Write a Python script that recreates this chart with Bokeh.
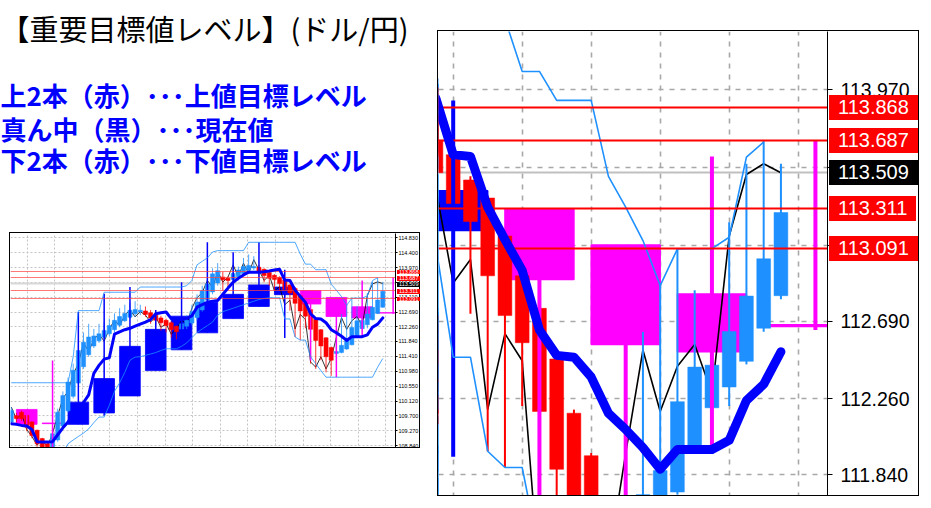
from bokeh.plotting import figure
from bokeh.models import (ColumnDataSource, Range1d, FixedTicker, NumeralTickFormatter, Label,
                          Spacer, GridBox, Div)
from bokeh.layouts import row, column
from bokeh.embed import file_html
from bokeh.resources import INLINE

NAN = float("nan")

# ---------------- texts ----------------
title_text = "【重要目標値レベル】(ドル/円)"
legend_lines = [
    "上2本（赤）･･･上値目標レベル",
    "真ん中（黒）･･･現在値",
    "下2本（赤）･･･下値目標レベル",
]

# ---------------- data (hourly Heikin-Ashi bars, index 0 = first grid line of zoom) ----------------
bar_index = list(range(-53, 20))

ha_open = [109.52, 109.70, 109.80, 109.71, 109.52, 109.28, 109.04, 108.89, 108.80, 109.00,
           109.40, 109.84, 110.26, 110.64, 111.11, 111.46, 111.71, 111.86, 111.96, 112.06,
           112.18, 112.31, 112.44, 112.54, 112.64, 112.70, 112.72, 112.67, 112.60, 112.52,
           112.45, 112.38, 112.28, 112.20, 112.28, 112.37, 112.53, 112.75, 113.03, 113.27,
           113.53, 113.70, 113.66, 113.63, 113.71, 113.80, 113.90, 113.96, 113.98, 113.92,
           113.83, 113.75, 113.69, 113.61, 113.47, 113.37, 113.16, 112.94, 112.76, 112.48,
           112.18, 111.945, 111.67, 111.49, 111.52, 111.625, 111.744, 112.00, 112.21, 112.325,
           112.467, 112.65, 112.83]
ha_high = [109.95, 109.78, 109.85, 109.74, 109.55, 109.30, 109.06, 108.95, 109.25, 109.90,
           110.40, 110.80, 111.20, 111.90, 112.10, 112.35, 112.20, 112.35, 112.40, 112.50,
           112.65, 112.80, 112.90, 112.95, 113.00, 112.90, 112.85, 112.75, 112.65, 112.58,
           112.50, 112.42, 112.30, 112.50, 112.60, 112.90, 113.20, 113.45, 113.70, 113.95,
           114.10, 113.85, 113.72, 114.10, 114.00, 114.25, 114.35, 114.30, 114.05, 113.95,
           113.86, 113.78, 113.72, 113.63, 113.49, 113.38, 113.17, 112.95, 112.78, 112.50,
           112.20, 111.96, 111.69, 111.97, 112.63, 112.90, 113.09, 112.86, 112.64, 113.236,
           113.559, 113.687, 113.559]
ha_low = [109.45, 109.50, 109.55, 109.25, 109.05, 108.80, 108.70, 108.60, 108.70, 108.95,
          109.35, 109.80, 110.20, 110.60, 111.05, 111.40, 111.65, 111.80, 111.90, 112.00,
          112.10, 112.25, 112.40, 112.50, 112.55, 112.60, 112.55, 112.35, 112.30, 112.15,
          112.10, 111.95, 111.90, 112.10, 112.20, 112.30, 112.45, 112.70, 112.95, 113.20,
          113.45, 113.30, 113.35, 113.55, 113.60, 113.72, 113.85, 113.90, 113.70, 113.55,
          113.45, 113.30, 113.30, 113.10, 112.73, 111.97, 111.88, 112.22, 111.20, 111.05,
          111.30, 110.95, 110.85, 111.40, 111.50, 111.60, 111.73, 111.98, 112.19, 112.22,
          112.45, 112.63, 112.81]
ha_close = [109.85, 109.62, 109.61, 109.37, 109.13, 108.89, 108.75, 108.70, 109.18, 109.80,
            110.28, 110.67, 111.01, 111.58, 111.82, 111.97, 112.00, 112.06, 112.16, 112.30,
            112.45, 112.56, 112.65, 112.74, 112.76, 112.74, 112.62, 112.52, 112.45, 112.38,
            112.30, 112.18, 112.12, 112.35, 112.45, 112.70, 112.97, 113.30, 113.50, 113.79,
            113.88, 113.62, 113.60, 113.80, 113.90, 114.00, 114.03, 114.00, 113.86, 113.74,
            113.66, 113.63, 113.51, 113.34, 113.24, 112.94, 112.72, 112.57, 112.19, 111.87,
            111.71, 111.40, 111.30, 111.55, 111.73, 111.863, 112.244, 112.435, 112.446, 112.632,
            112.828, 113.034, 113.29]

# actual close (thin black line)
close_line = [109.95, 109.60, 109.75, 109.30, 109.10, 108.85, 109.00, 108.80, 109.20, 109.70,
              110.20, 110.40, 110.90, 111.20, 111.80, 111.55, 111.90, 112.05, 111.85, 112.20,
              112.45, 112.30, 112.60, 112.75, 112.55, 112.70, 112.60, 112.40, 112.55, 112.25,
              112.35, 112.05, 112.20, 112.45, 112.35, 112.80, 113.10, 113.25, 113.60, 113.40,
              113.85, 113.55, 113.70, 114.05, 113.70, 114.10, 113.80, 114.20, 113.90, 113.60,
              113.75, 113.30, 113.42, 112.90, 113.03, 112.20, 112.62, 112.47, 111.25, 111.10,
              111.40, 111.05, 111.35, 111.96, 112.53, 112.19, 112.44, 112.56, 112.29, 113.16,
              113.50, 113.56, 113.51]

# thick blue moving average
ma_line = [109.47, 109.45, 109.42, 109.40, 109.30, 108.95, 108.94, 108.94, 108.95, 109.15,
           109.35, 109.52, 109.72, 109.90, 110.08, 110.30, 110.92, 111.15, 111.33, 111.37,
           112.05, 112.12, 112.18, 112.22, 112.28, 112.34, 112.40, 112.47, 112.64, 112.67,
           112.69, 112.50, 112.49, 112.49, 112.51, 112.58, 112.83, 112.90, 112.97, 113.00,
           113.02, 113.20, 113.38, 113.55, 113.66, 113.76, 113.84, 113.84, 113.84, 113.85,
           113.87, 113.90, 113.92, 113.61, 113.60, 113.32, 113.14, 112.97, 112.64, 112.50,
           112.49, 112.38, 112.18, 112.09, 111.99, 111.87, 111.98, 111.98, 111.98, 112.03,
           112.25, 112.34, 112.52]

# light blue channel lines
chan_upper = [110.65, 110.65, 110.65, 110.65, 110.65, 110.65, 110.65, 110.65, 110.65, 110.65,
              110.65, 110.65, 111.40, 112.73, 112.73, 112.73, 112.73, 112.73, 113.26, 113.26,
              113.26, 113.26, 113.26, 113.26, 113.26, 113.41, 113.41, 113.41, 113.41, 113.41,
              113.41, 113.41, 113.41, 113.41, 113.45, 113.60, 114.05, 114.15, 114.25, 114.42,
              114.46, 114.46, 114.46, 114.46, 114.46, 114.46, 114.70, 114.70, 114.70, 114.70,
              114.70, 114.70, 114.70, 114.70, 114.70, 114.70, 114.36, 114.07, 114.07, 113.91,
              113.91, 113.91, 113.49, 113.32, 113.135, 112.886, 113.089, 113.09, 113.09, 113.153,
              113.596, 113.68, NAN]
chan_lower = [108.60, 108.60, 108.60, 108.60, 108.60, 108.60, 108.60, 108.60, 108.60, 108.60,
              108.60, 108.89, 109.00, 109.10, 109.20, 109.32, 109.50, 109.66, 109.66, 110.00,
              110.40, 110.65, 110.95, 111.30, 111.39, 111.40, 111.44, 111.48, 111.52, 111.58,
              111.63, 111.63, 111.63, 111.70, 111.80, 111.95, 112.10, 112.20, 112.30, 112.40,
              112.60, 112.70, 112.75, 112.80, 112.85, 112.90, 112.95, 113.00, 113.05, 113.08,
              113.10, 113.10, 113.10, 112.49, 112.49, 111.97, 111.88, 111.88, 111.40, 111.20,
              111.00, 110.81, 110.81, 110.81, 110.81, 110.81, 110.81, 110.81, 110.81, 110.81,
              110.81, 111.10, 111.35]

# higher-timeframe candles (boxes)
htf_start = [-52, -47, -42, -37, -32, -27, -22, -17, -12, -7, -2, 3, 8, 13, 18]
htf_end = [-48, -43, -38, -33, -28, -23, -18, -13, -8, -3, 2, 7, 12, 17, 22]
htf_wick = [-50, -45, -40, -35, -30, -25, -20, -15, -10, -5, 0, 5, 10, 15, 21]
htf_open = [109.88, 109.49, 109.45, 109.78, 110.27, 111.00, 111.60, 112.09, 112.50, 112.85,
            113.19, 113.31, 113.11, 112.84, 112.67]
htf_high = [109.88, 111.29, 112.69, 113.22, 113.41, 112.75, 113.55, 114.70, 114.41, 114.70,
            113.91, 113.31, 113.11, 113.60, 113.687]
htf_low = [109.45, 108.50, 109.45, 109.70, 110.27, 111.00, 111.60, 112.09, 112.50, 112.85,
           111.94, 111.29, 110.81, 111.99, 112.64]
htf_close = [109.45, 109.47, 110.09, 110.77, 111.70, 112.19, 112.57, 112.97, 113.20, 113.48,
             113.41, 112.92, 112.56, 112.52, 112.66]

level_prices = [113.868, 113.687, 113.311, 113.091]
current_price = 113.509
price_ticks = [108.840, 109.270, 109.700, 110.120, 110.550, 110.980, 111.410, 111.840,
               112.260, 112.690, 113.110, 113.540, 113.970, 114.400, 114.830]

# ---------------- styles ----------------
BULL = "#1E90FF"
BEAR = "#FF0000"
HTF_BULL = "#0000FF"
HTF_BEAR = "#FF00FF"
CHAN = "#1E90FF"
MA = "#0000FF"
NUM_FONT = "Liberation Sans"
JP_FONT = "Noto Sans CJK JP"
DIV_DX, DIV_DY = -7, -3.5   # compensation for the Div's own content offset

ha_src = ColumnDataSource(dict(
    x=bar_index,
    top=[max(o, c) for o, c in zip(ha_open, ha_close)],
    bottom=[min(o, c) for o, c in zip(ha_open, ha_close)],
    high=ha_high, low=ha_low,
    color=[BULL if c >= o else BEAR for o, c in zip(ha_open, ha_close)],
))
htf_src = ColumnDataSource(dict(
    left=htf_start, right=htf_end, wick=htf_wick,
    top=[max(o, c) for o, c in zip(htf_open, htf_close)],
    bottom=[min(o, c) for o, c in zip(htf_open, htf_close)],
    high=htf_high, low=htf_low,
    color=[HTF_BULL if c > o else HTF_BEAR for o, c in zip(htf_open, htf_close)],
))


def draw_chart(p, s):
    p.quad(left="left", right="right", top="top", bottom="bottom", source=htf_src,
           fill_color="color", line_color="color", line_width=s["box_line"])
    p.hspan(y=[current_price], line_color=s["cur_color"], line_width=s["cur_w"])
    p.line(bar_index, close_line, line_color="black", line_width=s["close_w"])
    p.segment(x0="x", y0="high", x1="x", y1="low", source=ha_src,
              line_color="color", line_width=s["wick_w"])
    p.vbar(x="x", width=0.8, top="top", bottom="bottom", source=ha_src,
           fill_color="color", line_color="color", line_width=0.5)
    p.segment(x0="wick", y0="high", x1="wick", y1="low", source=htf_src,
              line_color="color", line_width=s["htf_wick_w"])
    p.line(bar_index, chan_upper, line_color=CHAN, line_width=s["chan_w"])
    p.line(bar_index, chan_lower, line_color=CHAN, line_width=s["chan_w"])
    p.hspan(y=level_prices, line_color=s["lvl_color"], line_width=s["lvl_w"],
            line_alpha=s["lvl_alpha"])
    p.line(bar_index, ma_line, line_color=MA, line_width=s["ma_w"],
           line_join="round", line_cap="round")


def style_axis(p, s):
    ax = p.yaxis[0]
    ax.ticker = FixedTicker(ticks=price_ticks)
    ax.formatter = NumeralTickFormatter(format="0.000")
    ax.major_label_text_font = NUM_FONT
    ax.major_label_text_font_size = s["lab_size"]
    ax.major_label_text_color = "black"
    ax.major_tick_out = s["tick_out"]
    ax.major_tick_in = 0
    ax.minor_tick_out = 0
    ax.minor_tick_in = 0
    ax.major_label_standoff = s["standoff"]
    ax.axis_line_color = "black"
    ax.major_tick_line_color = "black"
    p.ygrid.grid_line_color = s["grid_color"]
    p.ygrid.grid_line_dash = s["grid_dash"]
    p.ygrid.grid_line_width = s["grid_w"]
    p.xgrid.ticker = FixedTicker(ticks=s["xgrid"])
    p.xgrid.grid_line_color = s["grid_color"]
    p.xgrid.grid_line_dash = s["grid_dash"]
    p.xgrid.grid_line_width = s["grid_w"]


def make_chart(w, h, xr, yr, border_right, s):
    p = figure(width=w, height=h, x_range=Range1d(*xr), y_range=Range1d(*yr),
               x_axis_location=None, y_axis_location="right", toolbar_location=None,
               output_backend="svg", min_border_left=0, min_border_top=0,
               min_border_bottom=0, min_border_right=border_right, outline_line_color=None)
    p.styles = {"border": "1px solid black"}
    style_axis(p, s)
    draw_chart(p, s)
    return p


def with_price_tags(base, w, h, frame_w, yr, s):
    # price tags laid over the price-axis column (same grid cell as the chart)
    y0, y1 = yr
    tags = [(v, "#FF0000") for v in level_prices] + [(current_price, "#000000")]
    parts = []
    for v, bg in tags:
        top = 1 + (y1 - v) / (y1 - y0) * h - s["tag_h"] / 2 + s["tag_dy"] + DIV_DY
        left = 1 + frame_w + s["tag_off"] + DIV_DX
        parts.append(
            f'<div style="position:absolute;left:{left}px;top:{top:.2f}px;'
            f'height:{s["tag_h"]}px;line-height:{s["tag_h"]}px;padding:0 {s["tag_padx"]}px;'
            f'background:{bg};color:#ffffff;font-family:\'Liberation Sans\',Arial,sans-serif;'
            f'font-size:{s["tag_size"]};white-space:nowrap;">{v:.3f}</div>'
        )
    html = (f'<div style="position:relative;width:{w + 2}px;height:{h + 2}px;">'
            + "".join(parts) + "</div>")
    div = Div(text=html, width=w + 2, height=h + 2)
    return GridBox(children=[(base, 0, 0), (div, 0, 0)])


# ---------------- title panel ----------------
tp = figure(width=437, height=232, x_range=Range1d(0, 437), y_range=Range1d(232, 0),
            x_axis_location=None, y_axis_location=None, toolbar_location=None,
            output_backend="svg", min_border=0, outline_line_color=None)
tp.grid.visible = False
tp.add_layout(Label(x=0, y=27.5, text=title_text, text_font=JP_FONT, text_font_size="29px",
                    text_color="black", text_baseline="middle", text_align="left"))
for k, line in enumerate(legend_lines):
    tp.add_layout(Label(x=0, y=[94, 127.5, 159][k], text=line, text_font=JP_FONT,
                        text_font_size="26px", text_font_style="bold", text_color="#0000FF",
                        text_baseline="middle", text_align="left"))

# ---------------- small overview chart ----------------
small_style = dict(box_line=0.8, cur_color="#D8D8D8", cur_w=2, close_w=0.8, wick_w=0.8,
                   htf_wick_w=1.5, chan_w=0.8, lvl_color="#FF4040", lvl_w=1, lvl_alpha=0.7,
                   ma_w=3, tag_size="5.5px", tag_h=4.5, tag_padx=2, tag_off=1, tag_dy=0,
                   lab_size="5.5px", tick_out=2, standoff=1, grid_color="#C4C4C4",
                   grid_dash="2 2", grid_w=1,
                   xgrid=[19.6, 14.25, 8.9, 3.55, -1.8, -7.15, -12.5, -17.85, -23.2,
                          -28.55, -33.9, -39.25, -44.6, -49.95])
small_y = (108.725, 114.954)
sp = make_chart(411, 216, (-53.15, 21.46), small_y, 23, small_style)
small_block = with_price_tags(sp, 411, 216, 388, small_y, small_style)

# ---------------- zoomed chart ----------------
big_style = dict(box_line=1.5, cur_color="#C0C0C0", cur_w=2, close_w=1.6, wick_w=2,
                 htf_wick_w=4, chan_w=1.6, lvl_color="#FF0000", lvl_w=2.2, lvl_alpha=1.0,
                 ma_w=9, tag_size="20px", tag_h=25, tag_padx=9, tag_off=4, tag_dy=-1.5,
                 lab_size="19.5px", tick_out=5, standoff=8, grid_color="#A8A8A8",
                 grid_dash="5 6", grid_w=1.6, xgrid=[0, 4, 8, 12, 16, 20])
big_y = (111.714, 114.291)
bp = make_chart(482, 466, (-0.852, 21.70), big_y, 93, big_style)
big_block = with_price_tags(bp, 482, 466, 389, big_y, big_style)

layout = row(
    column(tp, row(Spacer(width=9, height=216), small_block)),
    column(Spacer(width=482, height=30), big_block),
)

open("out.html", "w").write(file_html(layout, INLINE))
